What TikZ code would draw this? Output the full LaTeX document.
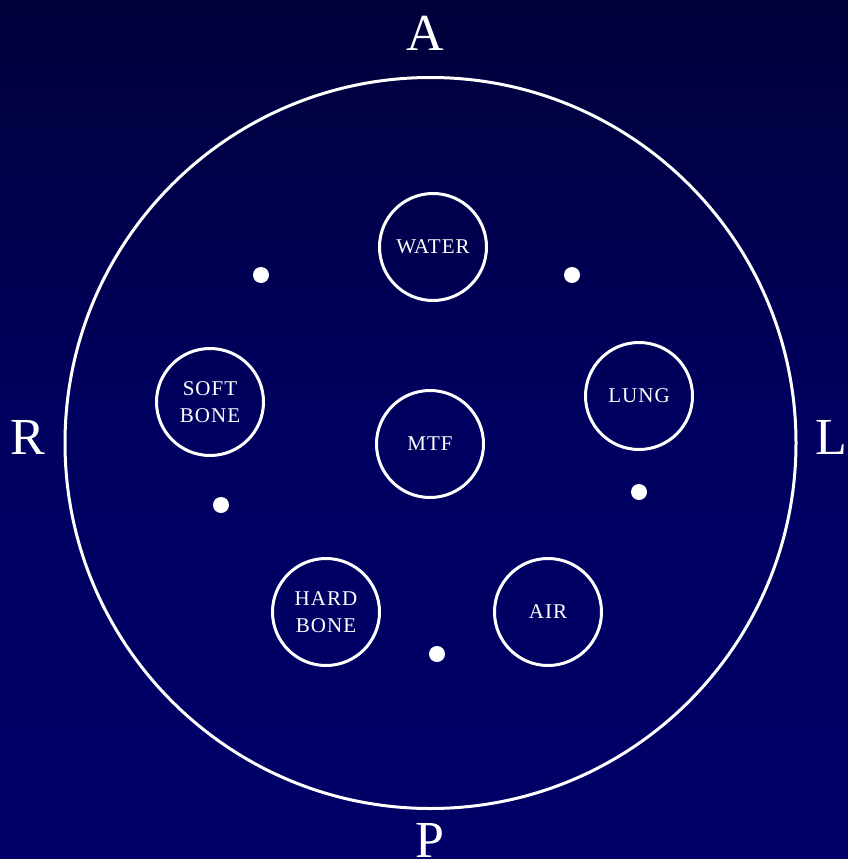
\documentclass[tikz,border=0pt]{standalone}
\usepackage{fontspec}
\setmainfont{Liberation Serif}
\newfontfamily\spaced[LetterSpace=5]{Liberation Serif}
\definecolor{bgtop}{RGB}{0,0,58}
\definecolor{bgmid}{RGB}{0,0,96}
\definecolor{bgbot}{RGB}{0,0,104}
\begin{document}
\begin{tikzpicture}[x=1pt,y=-1pt,
  phantom/.style={circle,draw=white,line width=3pt,minimum size=107pt,inner sep=0pt,
    text=white,align=center,font=\spaced\fontsize{21}{27}\selectfont},
  marker/.style={circle,fill=white,minimum size=16pt,inner sep=0pt},
  orient/.style={text=white,font=\fontsize{52}{52}\selectfont,inner sep=0pt}]
\shade[top color=bgtop,bottom color=bgbot,middle color=bgmid] (0,0) rectangle (848,859);
\useasboundingbox (0,0) rectangle (848,859);
\node[circle,draw=white,line width=3pt,minimum size=731pt,inner sep=0pt] (body) at (430.5,443) {};
\node[phantom] (water) at (433,247) {W\kern-2pt ATER};
\node[phantom] (soft) at (210,402) {SOFT\\BONE};
\node[phantom] (mtf) at (430,444) {MTF};
\node[phantom] (lung) at (639,396) {LUNG};
\node[phantom] (hard) at (326,612) {HARD\\BONE};
\node[phantom] (air) at (548,612) {AIR};
\node[marker] (d1) at (261,275) {};
\node[marker] (d2) at (572,275) {};
\node[marker] (d3) at (221,505) {};
\node[marker] (d4) at (639,492) {};
\node[marker] (d5) at (437,654) {};
\node[orient] (A) at (425,33) {A};
\node[orient] (R) at (28,437) {R};
\node[orient] (L) at (831,437) {L};
\node[orient] (P) at (430,840) {P};
\end{tikzpicture}
\end{document}
